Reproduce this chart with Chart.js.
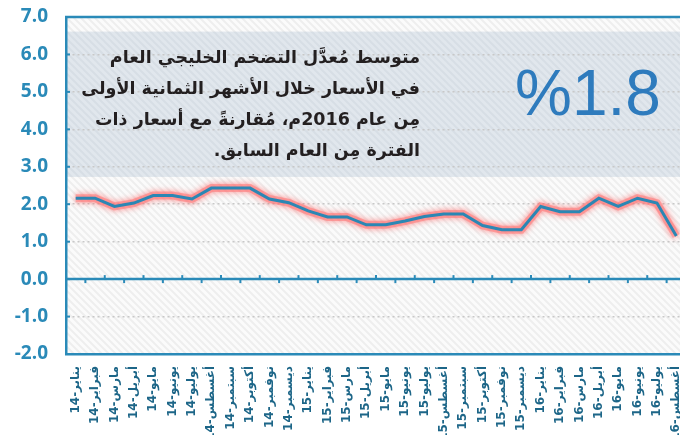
<!DOCTYPE html>
<html>
<head>
<meta charset="utf-8">
<script src="https://cdn.jsdelivr.net/npm/chart.js@4.4.1/dist/chart.umd.min.js"></script>
<style>
  html, body { margin: 0; padding: 0; background: #fff; overflow: hidden; }
  #wrap { width: 700px; height: 435px; }
</style>
</head>
<body>
<div id="wrap"><canvas id="chart" width="700" height="435"></canvas></div>
<script>
// الأشهر (يناير 2014 - أغسطس 2016)
const months = [
  'يناير-14', 'فبراير-14', 'مارس-14', 'أبريل-14', 'مايو-14', 'يونيو-14',
  'يوليو-14', 'أغسطس-14', 'سبتمبر-14', 'أكتوبر-14', 'نوفمبر-14', 'ديسمبر-14',
  'يناير-15', 'فبراير-15', 'مارس-15', 'أبريل-15', 'مايو-15', 'يونيو-15',
  'يوليو-15', 'أغسطس-15', 'سبتمبر-15', 'أكتوبر-15', 'نوفمبر-15', 'ديسمبر-15',
  'يناير-16', 'فبراير-16', 'مارس-16', 'أبريل-16', 'مايو-16', 'يونيو-16',
  'يوليو-16', 'أغسطس-16'
];

// معدل التضخم الخليجي (%)
const inflation = [
  2.16, 2.16, 1.94, 2.03, 2.23, 2.23, 2.14, 2.43, 2.43, 2.43, 2.14, 2.04,
  1.82, 1.66, 1.66, 1.45, 1.45, 1.55, 1.67, 1.74, 1.74, 1.43, 1.32, 1.32,
  1.94, 1.80, 1.80, 2.16, 1.94, 2.16, 2.03, 1.15
];

const yTicks = [-2, -1, 0, 1, 2, 3, 4, 5, 6, 7];

const noteLines = [
  'متوسط مُعدَّل التضخم الخليجي العام',
  'في الأسعار خلال الأشهر الثمانية الأولى',
  'مِن عام 2016م، مُقارنةً مع أسعار ذات',
  'الفترة مِن العام السابق.'
];
const headline = '%1.8';
const noteRange = [2.73, 6.61];   // box spans these y values

const BLUE = '#2a8ab8';

function hatch(ctx, base, stripe) {
    const c = document.createElement('canvas');
    c.width = 7; c.height = 7;
    const g = c.getContext('2d');
    g.fillStyle = base;
    g.fillRect(0, 0, 7, 7);
    g.strokeStyle = stripe;
    g.lineWidth = 2;
    g.beginPath();
    g.moveTo(-1, -1); g.lineTo(8, 8);
    g.moveTo(-1, 6); g.lineTo(1, 8);
    g.moveTo(6, -1); g.lineTo(8, 1);
    g.stroke();
    return ctx.createPattern(c, 'repeat');
}

const decor = {
    id: 'decor',
    beforeDraw(chart) {
        const { ctx, chartArea: a, scales: { y } } = chart;
        ctx.save();
        ctx.fillStyle = hatch(ctx, '#fbfbfb', '#eeeeee');
        ctx.fillRect(a.left, a.top, a.right - a.left, a.bottom - a.top);
        const t = y.getPixelForValue(noteRange[1]);
        const b = y.getPixelForValue(noteRange[0]);
        ctx.fillStyle = hatch(ctx, '#e1e7ed', '#d7dee5');
        ctx.fillRect(a.left, t, a.right - a.left, b - t);
        ctx.restore();
    },
    beforeDatasetsDraw(chart) {
        const { ctx, chartArea: a, scales: { x, y } } = chart;
        ctx.save();
        ctx.strokeStyle = BLUE;
        // zero line
        const z = y.getPixelForValue(0);
        ctx.lineWidth = 2.5;
        ctx.beginPath();
        ctx.moveTo(a.left, z); ctx.lineTo(a.right, z);
        ctx.stroke();
        // small ticks on zero line, alternating down / up
        ctx.lineWidth = 2;
        for (let i = 0; i < months.length - 1; i++) {
            const px = (x.getPixelForValue(i) + x.getPixelForValue(i + 1)) / 2;
            ctx.beginPath();
            if (i % 2 === 0) { ctx.moveTo(px, z); ctx.lineTo(px, z + 4); }
            else { ctx.moveTo(px, z); ctx.lineTo(px, z - 4); }
            ctx.stroke();
        }
        // inner ticks on left axis
        yTicks.forEach(v => {
            const py = y.getPixelForValue(v);
            ctx.beginPath();
            ctx.moveTo(a.left, py); ctx.lineTo(a.left + 4, py);
            ctx.stroke();
        });
        // top border
        ctx.lineWidth = 2.5;
        ctx.beginPath();
        ctx.moveTo(a.left - 1, a.top); ctx.lineTo(a.right, a.top);
        ctx.stroke();
        ctx.restore();
    },
    beforeDatasetDraw(chart, args) {
        if (args.index !== 0) return;
        chart.ctx.save();
        chart.ctx.shadowColor = 'rgba(255, 60, 60, 1)';
        chart.ctx.shadowBlur = 6;
    },
    afterDatasetDraw(chart, args) {
        if (args.index !== 0) return;
        chart.ctx.restore();
    },
    afterDraw(chart) {
        const { ctx } = chart;
        ctx.save();
        ctx.fillStyle = '#231f20';
        ctx.font = 'bold 17.5px "DejaVu Sans"';
        ctx.direction = 'rtl';
        ctx.textAlign = 'right';
        ctx.textBaseline = 'middle';
        const ys = [58, 89, 120, 151];
        noteLines.forEach((s, i) => ctx.fillText(s, 420, ys[i]));
        ctx.direction = 'ltr';
        ctx.textAlign = 'center';
        ctx.fillStyle = '#2e7bbd';
        ctx.font = '64px "Liberation Sans"';
        ctx.fillText(headline, 588, 97);
        ctx.restore();
    }
};

new Chart(document.getElementById('chart').getContext('2d'), {
    type: 'line',
    data: {
        labels: months,
        datasets: [{
            // glow under the line
            data: inflation,
            borderColor: 'rgba(255, 120, 120, 0.55)',
            borderWidth: 8,
            tension: 0,
            pointRadius: 0,
            fill: false,
            order: 2
        }, {
            data: inflation,
            borderColor: '#2b87b4',
            borderWidth: 3,
            tension: 0,
            pointRadius: 0,
            fill: false,
            order: 1
        }]
    },
    options: {
        responsive: false,
        animation: false,
        layout: { padding: { top: 17, right: 14, left: 0, bottom: 0 } },
        scales: {
            x: {
                offset: true,
                grid: { display: false },
                border: { color: BLUE, width: 2.5 },
                ticks: {
                    autoSkip: false,
                    minRotation: 90,
                    maxRotation: 90,
                    padding: 4,
                    color: '#1d6688',
                    font: { family: '"DejaVu Sans"', size: 12, weight: 'bold' }
                },
                afterFit(scale) { scale.height = 81; }
            },
            y: {
                min: -2,
                max: 7,
                afterBuildTicks(scale) { scale.ticks = yTicks.map(v => ({ value: v })); },
                grid: { color: '#c8c8c8', lineWidth: 1.5, drawTicks: false },
                border: { color: BLUE, width: 2.5, dash: [2, 3] },
                ticks: {
                    padding: 18,
                    color: BLUE,
                    font: { family: '"Open Sans"', size: 19, weight: 'bold' },
                    callback: v => v.toFixed(1)
                },
                afterFit(scale) {
                    scale.width = 66;
                    scale.paddingTop = 0;
                    scale.paddingBottom = 0;
                }
            }
        },
        plugins: {
            legend: { display: false },
            tooltip: { enabled: false }
        }
    },
    plugins: [decor]
});
</script>
</body>
</html>
